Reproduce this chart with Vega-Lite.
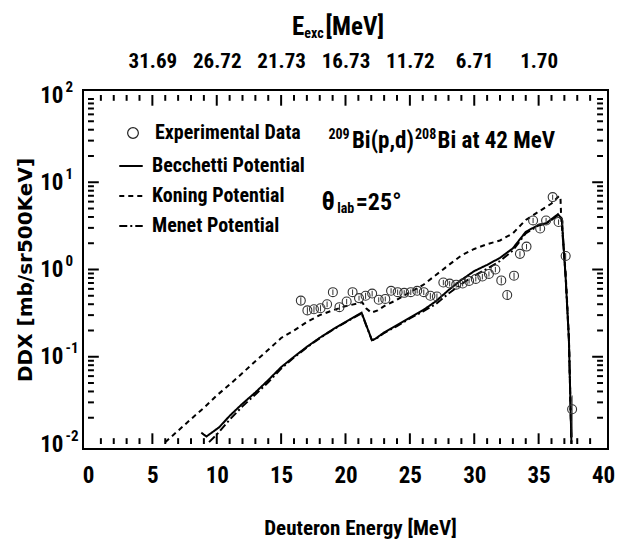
{
  "$schema": "https://vega.github.io/schema/vega-lite/v6.json",
  "width": 525,
  "height": 359,
  "autosize": "none",
  "padding": {"left": 83, "top": 90, "right": 19, "bottom": 93},
  "background": "white",
  "config": {
    "view": {"stroke": "black", "strokeWidth": 2},
    "font": "Roboto Condensed, Roboto, sans-serif",
    "axis": {"domain": false, "ticks": false, "labelColor": "black", "titleColor": "black", "grid": false, "labelFont": "Roboto Condensed, Roboto, sans-serif", "labelFontWeight": "bold", "titleFont": "Roboto Condensed, Roboto, sans-serif", "titleFontWeight": "bold"},
    "legend": {"labelFont": "Roboto Condensed, Roboto, sans-serif", "labelFontWeight": "bold", "labelColor": "black", "labelLimit": 400}
  },
  "datasets": {
    "xminor": [{"t": 1}, {"t": 2}, {"t": 3}, {"t": 4}, {"t": 6}, {"t": 7}, {"t": 8}, {"t": 9}, {"t": 11}, {"t": 12}, {"t": 13}, {"t": 14}, {"t": 16}, {"t": 17}, {"t": 18}, {"t": 19}, {"t": 21}, {"t": 22}, {"t": 23}, {"t": 24}, {"t": 26}, {"t": 27}, {"t": 28}, {"t": 29}, {"t": 31}, {"t": 32}, {"t": 33}, {"t": 34}, {"t": 36}, {"t": 37}, {"t": 38}, {"t": 39}],
    "xmajor": [{"t": 5}, {"t": 10}, {"t": 15}, {"t": 20}, {"t": 25}, {"t": 30}, {"t": 35}],
    "yminor": [{"v": 0.02}, {"v": 0.03}, {"v": 0.04}, {"v": 0.05}, {"v": 0.06}, {"v": 0.07}, {"v": 0.08}, {"v": 0.09}, {"v": 0.2}, {"v": 0.3}, {"v": 0.4}, {"v": 0.5}, {"v": 0.6}, {"v": 0.7}, {"v": 0.8}, {"v": 0.9}, {"v": 2}, {"v": 3}, {"v": 4}, {"v": 5}, {"v": 6}, {"v": 7}, {"v": 8}, {"v": 9}, {"v": 20}, {"v": 30}, {"v": 40}, {"v": 50}, {"v": 60}, {"v": 70}, {"v": 80}, {"v": 90}],
    "ymajor": [{"v": 0.1}, {"v": 1}, {"v": 10}],
    "exp": [
      {"E": 16.53, "DDX": 0.44, "lo": 0.40, "hi": 0.48},
      {"E": 17.04, "DDX": 0.34, "lo": 0.31, "hi": 0.37},
      {"E": 17.55, "DDX": 0.35, "lo": 0.32, "hi": 0.38},
      {"E": 18.06, "DDX": 0.36, "lo": 0.33, "hi": 0.39},
      {"E": 18.57, "DDX": 0.40, "lo": 0.37, "hi": 0.43},
      {"E": 19.02, "DDX": 0.55, "lo": 0.51, "hi": 0.59},
      {"E": 19.53, "DDX": 0.37, "lo": 0.34, "hi": 0.40},
      {"E": 20.09, "DDX": 0.43, "lo": 0.40, "hi": 0.46},
      {"E": 20.55, "DDX": 0.55, "lo": 0.51, "hi": 0.59},
      {"E": 21.05, "DDX": 0.47, "lo": 0.44, "hi": 0.50},
      {"E": 21.56, "DDX": 0.50, "lo": 0.46, "hi": 0.54},
      {"E": 22.07, "DDX": 0.53, "lo": 0.49, "hi": 0.57},
      {"E": 22.58, "DDX": 0.45, "lo": 0.42, "hi": 0.48},
      {"E": 23.09, "DDX": 0.46, "lo": 0.43, "hi": 0.49},
      {"E": 23.54, "DDX": 0.57, "lo": 0.53, "hi": 0.61},
      {"E": 24.05, "DDX": 0.55, "lo": 0.51, "hi": 0.59},
      {"E": 24.56, "DDX": 0.54, "lo": 0.50, "hi": 0.58},
      {"E": 25.07, "DDX": 0.55, "lo": 0.51, "hi": 0.59},
      {"E": 25.57, "DDX": 0.57, "lo": 0.53, "hi": 0.61},
      {"E": 26.08, "DDX": 0.55, "lo": 0.51, "hi": 0.59},
      {"E": 26.59, "DDX": 0.50, "lo": 0.46, "hi": 0.54},
      {"E": 27.10, "DDX": 0.49, "lo": 0.45, "hi": 0.53},
      {"E": 27.60, "DDX": 0.71, "lo": 0.66, "hi": 0.76},
      {"E": 28.09, "DDX": 0.69, "lo": 0.64, "hi": 0.74},
      {"E": 28.60, "DDX": 0.67, "lo": 0.62, "hi": 0.72},
      {"E": 29.10, "DDX": 0.69, "lo": 0.64, "hi": 0.74},
      {"E": 29.60, "DDX": 0.74, "lo": 0.69, "hi": 0.79},
      {"E": 30.12, "DDX": 0.78, "lo": 0.73, "hi": 0.83},
      {"E": 30.63, "DDX": 0.83, "lo": 0.77, "hi": 0.89},
      {"E": 31.14, "DDX": 0.89, "lo": 0.83, "hi": 0.95},
      {"E": 31.64, "DDX": 1.00, "lo": 0.93, "hi": 1.07},
      {"E": 32.10, "DDX": 0.75, "lo": 0.69, "hi": 0.81},
      {"E": 32.56, "DDX": 0.51, "lo": 0.46, "hi": 0.56},
      {"E": 33.09, "DDX": 0.85, "lo": 0.78, "hi": 0.92},
      {"E": 33.55, "DDX": 1.51, "lo": 1.40, "hi": 1.62},
      {"E": 34.06, "DDX": 1.83, "lo": 1.70, "hi": 1.96},
      {"E": 34.57, "DDX": 3.65, "lo": 3.40, "hi": 3.90},
      {"E": 35.12, "DDX": 2.95, "lo": 2.75, "hi": 3.15},
      {"E": 35.58, "DDX": 3.65, "lo": 3.40, "hi": 3.90},
      {"E": 36.09, "DDX": 6.76, "lo": 6.30, "hi": 7.20},
      {"E": 36.55, "DDX": 3.50, "lo": 3.25, "hi": 3.75},
      {"E": 37.10, "DDX": 1.43, "lo": 1.32, "hi": 1.54},
      {"E": 37.60, "DDX": 0.025, "lo": 0.012, "hi": 0.036}
    ],
    "curves": [
      {"model": "Becchetti Potential", "E": 8.8, "DDX": 0.0135},
      {"model": "Becchetti Potential", "E": 9.0, "DDX": 0.0128},
      {"model": "Becchetti Potential", "E": 9.2, "DDX": 0.0122},
      {"model": "Becchetti Potential", "E": 10.2, "DDX": 0.0156},
      {"model": "Becchetti Potential", "E": 11, "DDX": 0.021},
      {"model": "Becchetti Potential", "E": 12, "DDX": 0.029},
      {"model": "Becchetti Potential", "E": 13, "DDX": 0.039},
      {"model": "Becchetti Potential", "E": 14, "DDX": 0.054},
      {"model": "Becchetti Potential", "E": 15, "DDX": 0.076},
      {"model": "Becchetti Potential", "E": 16, "DDX": 0.10},
      {"model": "Becchetti Potential", "E": 17, "DDX": 0.13},
      {"model": "Becchetti Potential", "E": 18, "DDX": 0.165},
      {"model": "Becchetti Potential", "E": 19, "DDX": 0.205},
      {"model": "Becchetti Potential", "E": 20, "DDX": 0.25},
      {"model": "Becchetti Potential", "E": 21, "DDX": 0.305},
      {"model": "Becchetti Potential", "E": 21.25, "DDX": 0.32},
      {"model": "Becchetti Potential", "E": 22.05, "DDX": 0.155},
      {"model": "Becchetti Potential", "E": 22.3, "DDX": 0.16},
      {"model": "Becchetti Potential", "E": 23, "DDX": 0.19},
      {"model": "Becchetti Potential", "E": 24, "DDX": 0.23},
      {"model": "Becchetti Potential", "E": 25, "DDX": 0.28},
      {"model": "Becchetti Potential", "E": 26, "DDX": 0.34},
      {"model": "Becchetti Potential", "E": 27, "DDX": 0.43},
      {"model": "Becchetti Potential", "E": 28, "DDX": 0.58},
      {"model": "Becchetti Potential", "E": 29, "DDX": 0.76},
      {"model": "Becchetti Potential", "E": 30, "DDX": 0.96},
      {"model": "Becchetti Potential", "E": 31, "DDX": 1.13},
      {"model": "Becchetti Potential", "E": 32, "DDX": 1.36},
      {"model": "Becchetti Potential", "E": 33, "DDX": 1.75},
      {"model": "Becchetti Potential", "E": 34, "DDX": 2.7},
      {"model": "Becchetti Potential", "E": 35, "DDX": 3.25},
      {"model": "Becchetti Potential", "E": 35.6, "DDX": 3.4},
      {"model": "Becchetti Potential", "E": 36.5, "DDX": 4.3},
      {"model": "Becchetti Potential", "E": 36.8, "DDX": 3.8},
      {"model": "Becchetti Potential", "E": 37.1, "DDX": 0.8},
      {"model": "Becchetti Potential", "E": 37.35, "DDX": 0.16},
      {"model": "Becchetti Potential", "E": 37.55, "DDX": 0.01},
      {"model": "Koning Potential", "E": 6.0, "DDX": 0.0105},
      {"model": "Koning Potential", "E": 7, "DDX": 0.0142},
      {"model": "Koning Potential", "E": 8, "DDX": 0.0193},
      {"model": "Koning Potential", "E": 9, "DDX": 0.026},
      {"model": "Koning Potential", "E": 10, "DDX": 0.036},
      {"model": "Koning Potential", "E": 11, "DDX": 0.048},
      {"model": "Koning Potential", "E": 12, "DDX": 0.065},
      {"model": "Koning Potential", "E": 13, "DDX": 0.089},
      {"model": "Koning Potential", "E": 14, "DDX": 0.12},
      {"model": "Koning Potential", "E": 15, "DDX": 0.164},
      {"model": "Koning Potential", "E": 16, "DDX": 0.20},
      {"model": "Koning Potential", "E": 17, "DDX": 0.25},
      {"model": "Koning Potential", "E": 18, "DDX": 0.30},
      {"model": "Koning Potential", "E": 19, "DDX": 0.34},
      {"model": "Koning Potential", "E": 20, "DDX": 0.38},
      {"model": "Koning Potential", "E": 21, "DDX": 0.41},
      {"model": "Koning Potential", "E": 21.3, "DDX": 0.42},
      {"model": "Koning Potential", "E": 21.6, "DDX": 0.36},
      {"model": "Koning Potential", "E": 22.0, "DDX": 0.32},
      {"model": "Koning Potential", "E": 22.5, "DDX": 0.34},
      {"model": "Koning Potential", "E": 23, "DDX": 0.38},
      {"model": "Koning Potential", "E": 24, "DDX": 0.45},
      {"model": "Koning Potential", "E": 25, "DDX": 0.55},
      {"model": "Koning Potential", "E": 26, "DDX": 0.66},
      {"model": "Koning Potential", "E": 27, "DDX": 0.86},
      {"model": "Koning Potential", "E": 28, "DDX": 1.12},
      {"model": "Koning Potential", "E": 29, "DDX": 1.45},
      {"model": "Koning Potential", "E": 30, "DDX": 1.72},
      {"model": "Koning Potential", "E": 31, "DDX": 1.95},
      {"model": "Koning Potential", "E": 32, "DDX": 2.15},
      {"model": "Koning Potential", "E": 33, "DDX": 2.6},
      {"model": "Koning Potential", "E": 34, "DDX": 3.7},
      {"model": "Koning Potential", "E": 35, "DDX": 4.6},
      {"model": "Koning Potential", "E": 36, "DDX": 5.7},
      {"model": "Koning Potential", "E": 36.6, "DDX": 7.0},
      {"model": "Koning Potential", "E": 36.7, "DDX": 6.5},
      {"model": "Koning Potential", "E": 36.75, "DDX": 4.0},
      {"model": "Koning Potential", "E": 37.1, "DDX": 0.9},
      {"model": "Koning Potential", "E": 37.35, "DDX": 0.17},
      {"model": "Koning Potential", "E": 37.55, "DDX": 0.01},
      {"model": "Menet Potential", "E": 9.4, "DDX": 0.0105},
      {"model": "Menet Potential", "E": 10, "DDX": 0.0128},
      {"model": "Menet Potential", "E": 11, "DDX": 0.019},
      {"model": "Menet Potential", "E": 12, "DDX": 0.027},
      {"model": "Menet Potential", "E": 13, "DDX": 0.037},
      {"model": "Menet Potential", "E": 14, "DDX": 0.051},
      {"model": "Menet Potential", "E": 15, "DDX": 0.073},
      {"model": "Menet Potential", "E": 16, "DDX": 0.098},
      {"model": "Menet Potential", "E": 17, "DDX": 0.128},
      {"model": "Menet Potential", "E": 18, "DDX": 0.163},
      {"model": "Menet Potential", "E": 19, "DDX": 0.203},
      {"model": "Menet Potential", "E": 20, "DDX": 0.248},
      {"model": "Menet Potential", "E": 21, "DDX": 0.30},
      {"model": "Menet Potential", "E": 21.25, "DDX": 0.315},
      {"model": "Menet Potential", "E": 22.05, "DDX": 0.155},
      {"model": "Menet Potential", "E": 22.3, "DDX": 0.158},
      {"model": "Menet Potential", "E": 23, "DDX": 0.187},
      {"model": "Menet Potential", "E": 24, "DDX": 0.225},
      {"model": "Menet Potential", "E": 25, "DDX": 0.275},
      {"model": "Menet Potential", "E": 26, "DDX": 0.33},
      {"model": "Menet Potential", "E": 27, "DDX": 0.40},
      {"model": "Menet Potential", "E": 28, "DDX": 0.53},
      {"model": "Menet Potential", "E": 29, "DDX": 0.68},
      {"model": "Menet Potential", "E": 30, "DDX": 0.85},
      {"model": "Menet Potential", "E": 31, "DDX": 1.02},
      {"model": "Menet Potential", "E": 32, "DDX": 1.25},
      {"model": "Menet Potential", "E": 33, "DDX": 1.65},
      {"model": "Menet Potential", "E": 34, "DDX": 2.6},
      {"model": "Menet Potential", "E": 35, "DDX": 3.2},
      {"model": "Menet Potential", "E": 35.6, "DDX": 3.35},
      {"model": "Menet Potential", "E": 36.5, "DDX": 4.2},
      {"model": "Menet Potential", "E": 36.8, "DDX": 3.7},
      {"model": "Menet Potential", "E": 37.1, "DDX": 0.8},
      {"model": "Menet Potential", "E": 37.35, "DDX": 0.16},
      {"model": "Menet Potential", "E": 37.55, "DDX": 0.01}
    ]
  },
  "layer": [
    {
      "data": {"name": "curves"},
      "mark": {"type": "line", "color": "black", "strokeWidth": 2, "clip": true},
      "encoding": {
        "x": {"field": "E", "type": "quantitative", "scale": {"domain": [0, 40], "nice": false},
          "axis": {"orient": "bottom", "title": "Deuteron Energy [MeV]", "titleFontSize": 21, "titlePadding": 30, "titleX": 277,
            "values": [0, 5, 10, 15, 20, 25, 30, 35, 40], "labelFontSize": 23, "labelPadding": 15, "labelFlush": false}},
        "y": {"field": "DDX", "type": "quantitative", "scale": {"type": "log", "domain": [0.01, 100], "nice": false},
          "axis": {"orient": "left", "title": "DDX [mb/sr500KeV]", "titleFont": "DejaVu Sans", "titleFontSize": 20, "titlePadding": 4,
            "values": [0.01, 0.1, 1, 10, 100], "labelExpr": "'10'", "labelFontSize": 23, "labelPadding": 20, "labelFlush": false}},
        "strokeDash": {"field": "model", "type": "nominal",
          "scale": {"domain": ["Becchetti Potential", "Koning Potential", "Menet Potential"], "range": [[1, 0], [5, 4], [8, 3, 2, 3]]},
          "legend": {"orient": "none", "legendX": 35, "legendY": 63, "title": null, "labelFontSize": 20, "symbolType": "stroke", "symbolStrokeColor": "black", "symbolStrokeWidth": 2, "symbolSize": 550, "rowPadding": 7, "labelOffset": 8, "padding": 0}}
      }
    },
    {
      "data": {"name": "exp"},
      "mark": {"type": "rule", "color": "#333333", "strokeWidth": 1},
      "encoding": {
        "x": {"field": "E", "type": "quantitative", "axis": null},
        "y": {"field": "lo", "type": "quantitative", "axis": null},
        "y2": {"field": "hi"}
      }
    },
    {
      "data": {"name": "exp"},
      "mark": {"type": "point", "filled": false, "color": "#333333", "opacity": 1, "strokeWidth": 1.1, "size": 80},
      "encoding": {
        "x": {"field": "E", "type": "quantitative",
          "axis": {"orient": "top", "title": null, "values": [0, 5, 10, 15, 20, 25, 30, 35, 40],
            "labelExpr": "datum.value == 5 ? '31.69' : datum.value == 10 ? '26.72' : datum.value == 15 ? '21.73' : datum.value == 20 ? '16.73' : datum.value == 25 ? '11.72' : datum.value == 30 ? '6.71' : datum.value == 35 ? '1.70' : ''",
            "labelFontSize": 21, "labelPadding": 19, "labelFlush": false}},
        "y": {"field": "DDX", "type": "quantitative", "axis": null},
        "shape": {"datum": "Experimental Data", "type": "nominal", "scale": {"range": ["circle"]},
          "legend": {"orient": "none", "legendX": 40, "legendY": 33, "title": null, "labelFontSize": 20, "symbolSize": 115, "symbolStrokeColor": "#222222", "symbolStrokeWidth": 1.2, "symbolFillColor": "transparent", "labelOffset": 12, "padding": 0}}
      }
    },
    {
      "data": {"values": [{}]},
      "mark": {"type": "text", "fontWeight": "bold", "fontSize": 14, "align": "left", "baseline": "alphabetic"},
      "encoding": {
        "x": {"datum": 19.35, "type": "quantitative", "axis": null},
        "y": {"datum": 4.48, "type": "quantitative",
          "axis": {"orient": "left", "title": null, "values": [0.01, 0.1, 1, 10, 100],
            "labelExpr": "datum.value == 100 ? '2' : datum.value == 10 ? '1' : datum.value == 1 ? '0' : datum.value == 0.1 ? '-1' : '-2'",
            "labelAlign": "left", "labelPadding": 18, "labelOffset": -9, "labelFontSize": 15, "labelFlush": false}},
        "text": {"value": "lab"}
      }
    },
    {
      "data": {"name": "xminor"},
      "mark": {"type": "bar", "color": "black", "width": 2},
      "encoding": {"x": {"field": "t", "type": "quantitative", "axis": null}, "y": {"datum": 0.01, "type": "quantitative", "axis": null}, "y2": {"datum": 0.01166}}
    },
    {
      "data": {"name": "xmajor"},
      "mark": {"type": "bar", "color": "black", "width": 2},
      "encoding": {"x": {"field": "t", "type": "quantitative", "axis": null}, "y": {"datum": 0.01, "type": "quantitative", "axis": null}, "y2": {"datum": 0.01326}}
    },
    {
      "data": {"name": "xminor"},
      "mark": {"type": "bar", "color": "black", "width": 2},
      "encoding": {"x": {"field": "t", "type": "quantitative", "axis": null}, "y": {"datum": 85.8, "type": "quantitative", "axis": null}, "y2": {"datum": 100}}
    },
    {
      "data": {"name": "xmajor"},
      "mark": {"type": "bar", "color": "black", "width": 2},
      "encoding": {"x": {"field": "t", "type": "quantitative", "axis": null}, "y": {"datum": 75.4, "type": "quantitative", "axis": null}, "y2": {"datum": 100}}
    },
    {
      "data": {"name": "yminor"},
      "mark": {"type": "bar", "color": "black", "height": 2},
      "encoding": {"y": {"field": "v", "type": "quantitative", "axis": null}, "x": {"datum": 0, "type": "quantitative", "axis": null}, "x2": {"datum": 0.46}}
    },
    {
      "data": {"name": "ymajor"},
      "mark": {"type": "bar", "color": "black", "height": 2},
      "encoding": {"y": {"field": "v", "type": "quantitative", "axis": null}, "x": {"datum": 0, "type": "quantitative", "axis": null}, "x2": {"datum": 0.84}}
    },
    {
      "data": {"name": "yminor"},
      "mark": {"type": "bar", "color": "black", "height": 2},
      "encoding": {"y": {"field": "v", "type": "quantitative", "axis": null}, "x": {"datum": 39.54, "type": "quantitative", "axis": null}, "x2": {"datum": 40}}
    },
    {
      "data": {"name": "ymajor"},
      "mark": {"type": "bar", "color": "black", "height": 2},
      "encoding": {"y": {"field": "v", "type": "quantitative", "axis": null}, "x": {"datum": 39.16, "type": "quantitative", "axis": null}, "x2": {"datum": 40}}
    },
    {
      "data": {"values": [{}]},
      "mark": {"type": "text", "fontWeight": "bold", "fontSize": 26, "align": "left", "baseline": "alphabetic"},
      "encoding": {"x": {"datum": 18.13, "type": "quantitative", "axis": null}, "y": {"datum": 4.84, "type": "quantitative", "axis": null}, "text": {"value": "θ"}}
    },
    {
      "data": {"values": [{}]},
      "mark": {"type": "text", "fontWeight": "bold", "fontSize": 24, "align": "left", "baseline": "alphabetic"},
      "encoding": {"x": {"datum": 20.8, "type": "quantitative", "axis": null}, "y": {"datum": 4.84, "type": "quantitative", "axis": null}, "text": {"value": "=25°"}}
    },
    {
      "data": {"values": [{}]},
      "mark": {"type": "text", "fontWeight": "bold", "fontSize": 14, "align": "left", "baseline": "alphabetic"},
      "encoding": {"x": {"datum": 18.67, "type": "quantitative", "axis": null}, "y": {"datum": 31.5, "type": "quantitative", "axis": null}, "text": {"value": "209"}}
    },
    {
      "data": {"values": [{}]},
      "mark": {"type": "text", "fontWeight": "bold", "fontSize": 23, "align": "left", "baseline": "alphabetic"},
      "encoding": {"x": {"datum": 20.5, "type": "quantitative", "axis": null}, "y": {"datum": 24.4, "type": "quantitative", "axis": null}, "text": {"value": "Bi(p,d)"}}
    },
    {
      "data": {"values": [{}]},
      "mark": {"type": "text", "fontWeight": "bold", "fontSize": 14, "align": "left", "baseline": "alphabetic"},
      "encoding": {"x": {"datum": 25.4, "type": "quantitative", "axis": null}, "y": {"datum": 31.5, "type": "quantitative", "axis": null}, "text": {"value": "208"}}
    },
    {
      "data": {"values": [{}]},
      "mark": {"type": "text", "fontWeight": "bold", "fontSize": 23, "align": "left", "baseline": "alphabetic"},
      "encoding": {"x": {"datum": 27.15, "type": "quantitative", "axis": null}, "y": {"datum": 24.4, "type": "quantitative", "axis": null}, "text": {"value": "Bi at 42 MeV"}}
    },
    {
      "data": {"values": [{}]},
      "mark": {"type": "text", "fontWeight": "bold", "fontSize": 25, "align": "left", "baseline": "alphabetic"},
      "encoding": {"x": {"datum": 15.85, "type": "quantitative", "axis": null}, "y": {"datum": 491, "type": "quantitative", "axis": null}, "text": {"value": "E"}}
    },
    {
      "data": {"values": [{}]},
      "mark": {"type": "text", "fontWeight": "bold", "fontSize": 14, "align": "left", "baseline": "alphabetic"},
      "encoding": {"x": {"datum": 16.8, "type": "quantitative", "axis": null}, "y": {"datum": 454, "type": "quantitative", "axis": null}, "text": {"value": "exc"}}
    },
    {
      "data": {"values": [{}]},
      "mark": {"type": "text", "fontWeight": "bold", "fontSize": 25, "align": "left", "baseline": "alphabetic"},
      "encoding": {"x": {"datum": 18.44, "type": "quantitative", "axis": null}, "y": {"datum": 491, "type": "quantitative", "axis": null}, "text": {"value": "[MeV]"}}
    }
  ],
  "resolve": {"axis": {"x": "independent", "y": "independent"}}
}
